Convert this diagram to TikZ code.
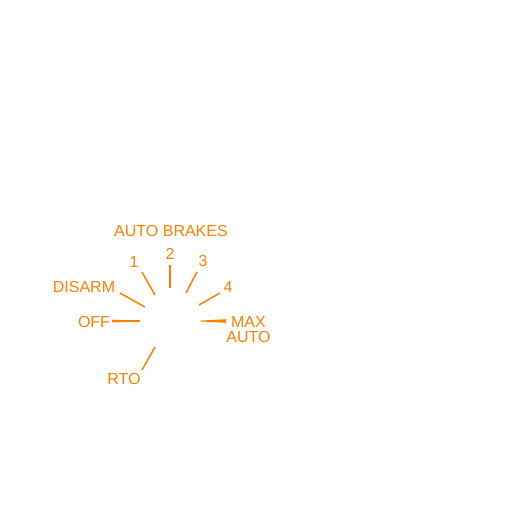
\documentclass[tikz,border=0pt]{standalone}
\usepackage{fontspec}
\setmainfont{Liberation Sans}
\definecolor{ab}{RGB}{255,128,0}
\definecolor{abl}{RGB}{255,190,130}
\begin{document}
\begin{tikzpicture}[x=1pt,y=-1pt,
  lbl/.style={text=ab,font=\fontsize{16}{15}\selectfont,inner sep=0pt,anchor=base},
  tick/.style={draw=ab,line width=1.5pt}]
\useasboundingbox (0,0) rectangle (512,512);
\node[lbl] (title) at (171,236.5) {AUTO BRAKES};
\node[lbl] (n1) at (134,267.5) {1};
\node[lbl] (n2) at (170,259.5) {2};
\node[lbl] (n3) at (203,266.5) {3};
\node[lbl] (n4) at (228,292) {4};
\node[lbl] (disarm) at (84,292) {DISARM};
\node[lbl] (off) at (94,327.5) {OFF};
\node[lbl,align=center,anchor=north] (max) at (248.5,316) {MAX\\AUTO};
\node[lbl] (rto) at (124,384.5) {RTO};
\coordinate (d1) at (120,293); \coordinate (d2) at (145,307);
\coordinate (a1) at (142,272); \coordinate (a2) at (155,295);
\coordinate (b1) at (170,265); \coordinate (b2) at (170,288);
\coordinate (c1) at (197,272); \coordinate (c2) at (186,293);
\coordinate (e1) at (220,293); \coordinate (e2) at (199,305);
\coordinate (r1) at (155,347); \coordinate (r2) at (142,370);
\coordinate (o1) at (112,321); \coordinate (o2) at (140,321);
\draw[tick] (d1) -- (d2);
\draw[tick] (a1) -- (a2);
\draw[tick] (b1) -- (b2);
\draw[tick] (c1) -- (c2);
\draw[tick] (e1) -- (e2);
\draw[tick] (r1) -- (r2);
\fill[abl] (112,319.4) -- (126,320) -- (126,322) -- (112,322.6) -- cycle;
\draw[tick] (o1) -- (o2);
\fill[ab] (200,320.6) -- (226,319.2) -- (226,322.8) -- (200,321.4) -- cycle;
\end{tikzpicture}
\end{document}
